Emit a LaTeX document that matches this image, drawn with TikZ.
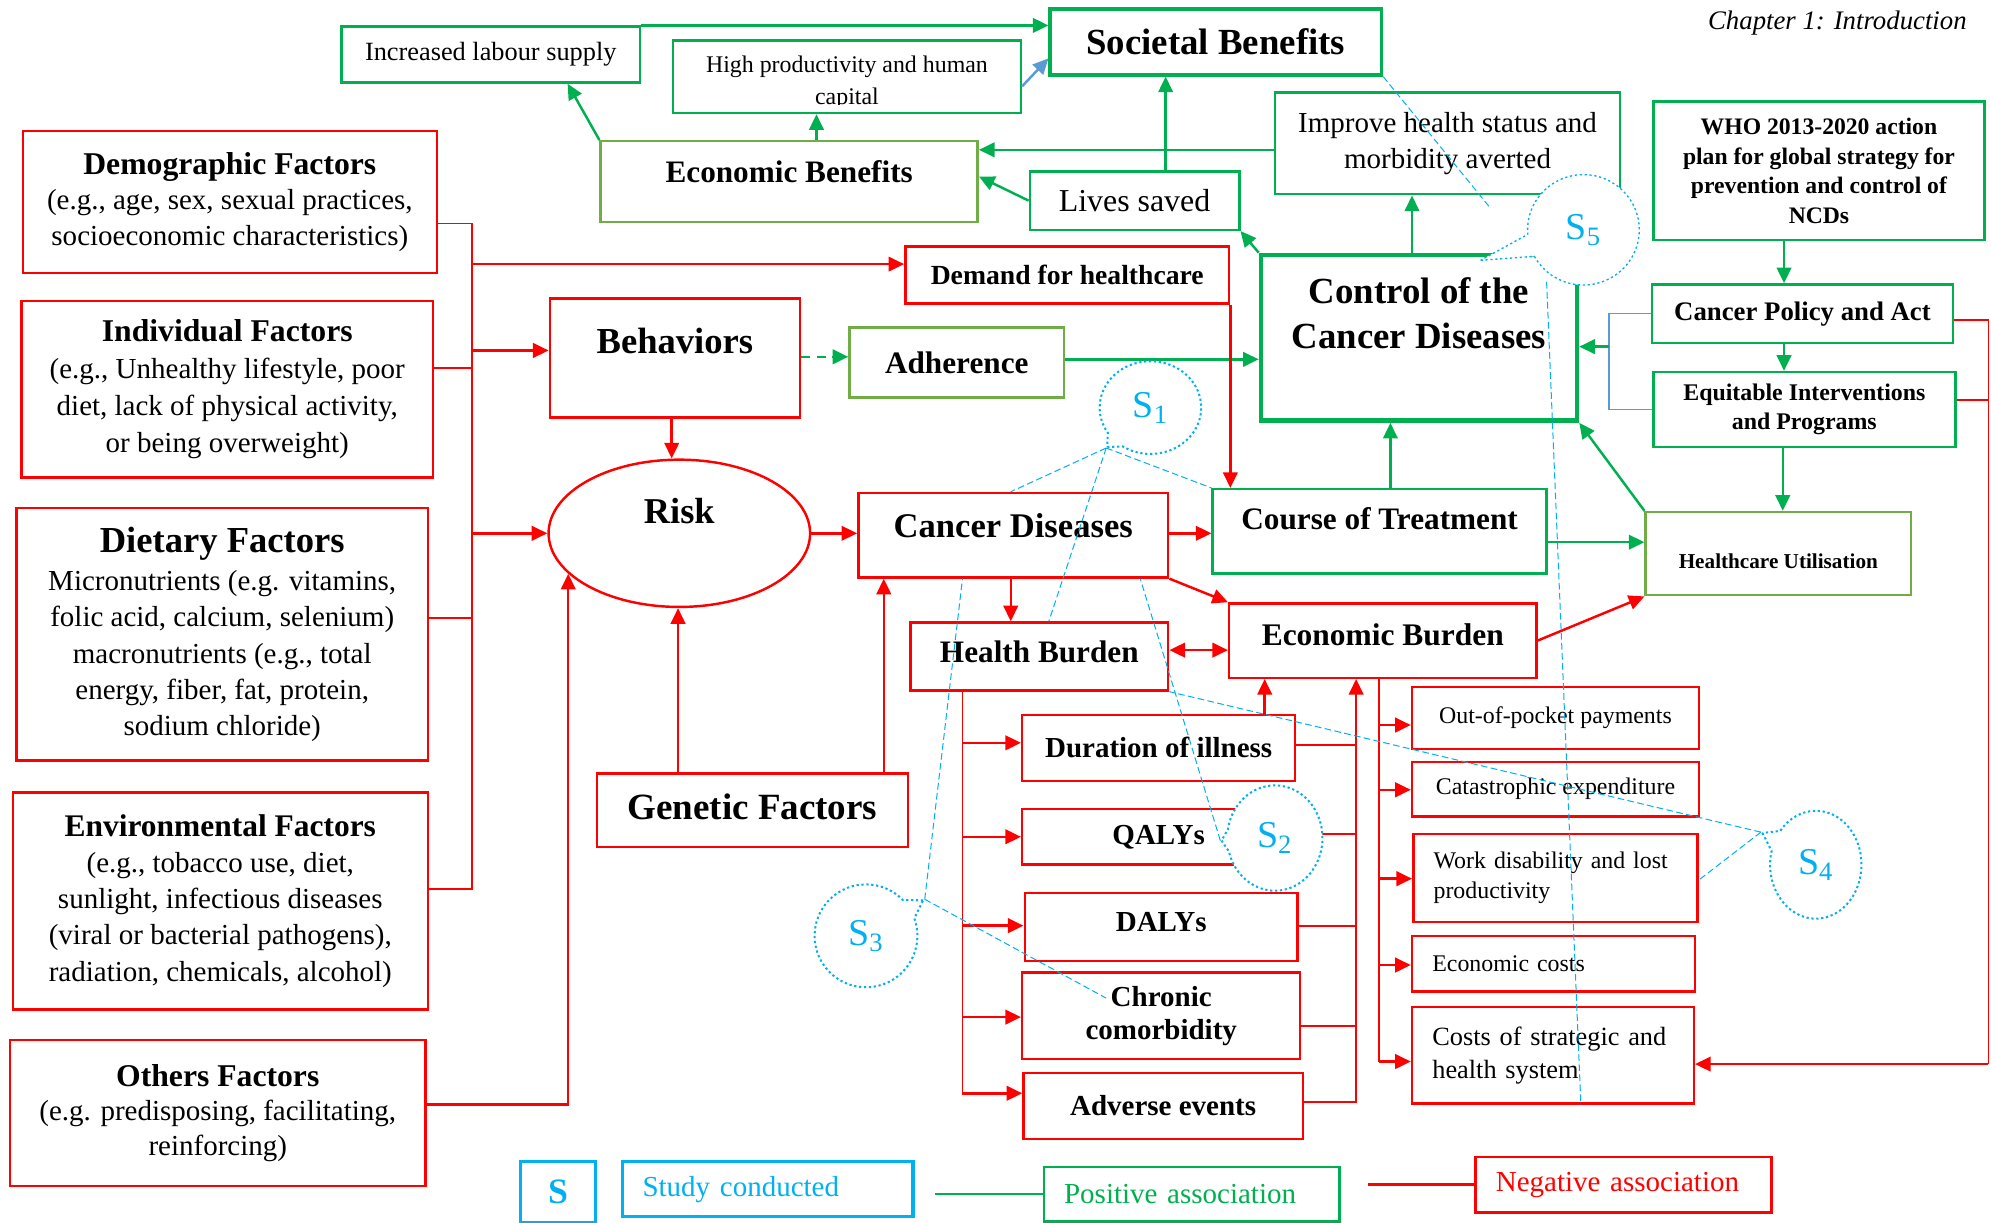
\documentclass[tikz,border=0pt]{standalone}
\usepackage{fontspec}
\setmainfont{Liberation Serif}
\usetikzlibrary{arrows.meta,shapes.geometric,shapes.callouts}

\definecolor{posgreen}{HTML}{00B050}
\definecolor{olivegreen}{HTML}{70AD47}
\definecolor{studycyan}{HTML}{00B0F0}
\definecolor{linkblue}{HTML}{5B9BD5}
\newcommand{\fsz}[2]{\fontsize{#1}{#2}\selectfont}

\begin{document}
\begin{tikzpicture}[
  x=0.02cm, y=-0.02cm,
  >={Triangle[length=7pt,width=6.5pt]},
  plainbox/.style={draw, fill=white, align=center, inner sep=1pt},
  negbox/.style={plainbox, draw=red, line width=1.1pt},
  posbox/.style={plainbox, draw=posgreen, line width=1.1pt},
  olivebox/.style={plainbox, draw=olivegreen, line width=1.1pt},
  leftbox/.style={align=left, inner xsep=0.32cm},
  neglink/.style={draw=red, line width=1.1pt, ->},
  negthin/.style={draw=red, line width=0.8pt},
  poslink/.style={draw=posgreen, line width=1.1pt, ->},
  study/.style={draw=studycyan, line width=0.45pt, dash pattern=on 3pt off 1.5pt},
  bubble/.style={ellipse callout, draw=studycyan, dash pattern=on 1pt off 1.2pt,
    line width=0.9pt, fill=white, text=studycyan, font=\fsz{17}{17},
    inner sep=0pt, callout pointer arc=24}
]
\useasboundingbox (0,0) rectangle (1568,963);

\node[font=\itshape\fsz{12}{14}] (chapter) at (1447,18) {Chapter 1: Introduction};

% ── Benefits (top row) ──────────────────────────────────────────
\node[posbox, minimum width=4.70cm, minimum height=0.88cm, font=\fsz{11.8}{14}]
  (labour) at (386.5,43) {Increased labour supply};
\node[posbox, minimum width=5.48cm, minimum height=1.14cm] (hiprod) at (667,60.5) {};
\begin{scope}
  \clip (531,33) rectangle (803,82);
  \node[font=\fsz{10.7}{14.2}, align=center] (hiprodtxt) at (667,65)
    {High productivity and human\\capital};
\end{scope}
\node[posbox, line width=1.5pt, minimum width=5.22cm, minimum height=1.04cm,
  font=\bfseries\fsz{16.5}{20}] (societal) at (957.5,33) {Societal Benefits};
\node[olivebox, minimum width=5.94cm, text height=0.62cm, text depth=0.58cm,
  font=\bfseries\fsz{14}{17}] (ecben) at (621.5,143) {Economic Benefits};
\node[posbox, minimum width=3.30cm, minimum height=0.92cm, font=\fsz{14.3}{17}]
  (lives) at (893.5,158) {Lives saved};
\node[posbox, minimum width=5.44cm, minimum height=1.60cm, font=\fsz{13}{15.9}]
  (improve) at (1140,113) {Improve health status and\\morbidity averted};

% ── Policy column ───────────────────────────────────────────────
\node[posbox, minimum width=5.22cm, minimum height=2.18cm, font=\bfseries\fsz{10.6}{13.2}]
  (who) at (1432.5,134.5)
  {WHO 2013-2020 action\\plan for global strategy for\\prevention and control of\\NCDs};
\node[posbox, line width=2pt, minimum width=4.98cm, text height=1.44cm, text depth=1.10cm,
  font=\bfseries\fsz{16.5}{20.4}] (control) at (1117.5,266) {Control of the\\Cancer Diseases};
\node[posbox, minimum width=4.74cm, minimum height=0.92cm, font=\bfseries\fsz{12}{14}]
  (policy) at (1419.5,247) {Cancer Policy and Act};
\node[posbox, minimum width=4.76cm, minimum height=1.18cm, font=\bfseries\fsz{10.7}{13}]
  (equit) at (1421,322.5) {Equitable Interventions\\and Programs};
\node[olivebox, minimum width=3.38cm, minimum height=1.10cm, font=\bfseries\fsz{14}{17}]
  (adher) at (753.5,285.5) {Adherence};
\node[posbox, minimum width=5.26cm, text height=0.60cm, text depth=0.66cm,
  font=\bfseries\fsz{14}{17}] (course) at (1086.5,418.5) {Course of Treatment};
\node[olivebox, minimum width=4.18cm, text height=0.85cm, text depth=0.39cm,
  font=\bfseries\fsz{9.5}{12}] (hcutil) at (1400.5,436) {Healthcare Utilisation};

% ── Risk factors (left column) ──────────────────────────────────
\node[negbox, minimum width=6.52cm, minimum height=2.24cm, font=\fsz{13}{16}] (demo) at (181,159)
  {{\bfseries\fsz{14.2}{16.5}Demographic Factors}\\(e.g., age, sex, sexual practices,\\
   socioeconomic characteristics)};
\node[negbox, minimum width=6.48cm, minimum height=2.78cm, font=\fsz{13}{16.5}] (indiv) at (179,306.5)
  {{\bfseries\fsz{14.2}{16.5}Individual Factors}\\(e.g., Unhealthy lifestyle, poor\\
   diet, lack of physical activity,\\or being overweight)};
\node[negbox, minimum width=6.48cm, minimum height=3.98cm, font=\fsz{13}{16.2}] (diet) at (175,499.5)
  {{\bfseries\fsz{16.4}{18}Dietary Factors}\\[1pt]Micronutrients (e.g. vitamins,\\
   folic acid, calcium, selenium)\\macronutrients (e.g., total\\
   energy, fiber, fat, protein,\\sodium chloride)};
\node[negbox, minimum width=6.54cm, minimum height=3.42cm, font=\fsz{13}{16.2}] (env) at (173.5,709.5)
  {{\bfseries\fsz{14.1}{16.5}Environmental Factors}\\(e.g., tobacco use, diet,\\
   sunlight, infectious diseases\\(viral or bacterial pathogens),\\
   radiation, chemicals, alcohol)};
\node[negbox, minimum width=6.54cm, minimum height=2.30cm, font=\fsz{13}{15.6}] (others) at (171.5,876.5)
  {{\bfseries\fsz{14.2}{16.5}Others Factors}\\(e.g. predisposing, facilitating,\\reinforcing)};

% ── Disease chain ───────────────────────────────────────────────
\node[negbox, minimum width=5.10cm, minimum height=0.90cm, font=\bfseries\fsz{12.4}{15}]
  (demand) at (840.5,216.5) {Demand for healthcare};
\node[negbox, minimum width=3.94cm, text height=0.83cm, text depth=0.97cm,
  font=\bfseries\fsz{16.4}{20}] (behav) at (531.5,282) {Behaviors};
\node[negbox, ellipse, minimum width=4.12cm, minimum height=2.32cm, text height=0.4cm,
  text depth=0.7cm, font=\bfseries\fsz{16.3}{20}] (risk) at (535,420) {Risk};
\node[negbox, minimum width=4.88cm, text height=0.66cm, text depth=0.60cm,
  font=\bfseries\fsz{15.5}{19}] (cancer) at (798,421.5) {Cancer Diseases};
\node[negbox, minimum width=4.90cm, text height=0.70cm, text depth=0.39cm,
  font=\bfseries\fsz{16.6}{20}] (genetic) at (592.5,638) {Genetic Factors};
\node[negbox, minimum width=4.06cm, text height=0.60cm, text depth=0.40cm,
  font=\bfseries\fsz{14}{17}] (hburden) at (818.5,517) {Health Burden};
\node[negbox, minimum width=4.84cm, text height=0.62cm, text depth=0.48cm,
  font=\bfseries\fsz{14.1}{17}] (eburden) at (1089,504.5) {Economic Burden};

% ── Health burden items ─────────────────────────────────────────
\node[negbox, minimum width=4.30cm, minimum height=1.04cm, font=\bfseries\fsz{13}{15}]
  (duration) at (912.5,589) {Duration of illness};
\node[negbox, minimum width=4.30cm, minimum height=0.88cm, font=\bfseries\fsz{13}{15}]
  (qalys) at (912.5,659) {QALYs};
\node[negbox, minimum width=4.30cm, text height=0.57cm, text depth=0.43cm,
  font=\bfseries\fsz{13}{15}] (dalys) at (914.5,730) {DALYs};
\node[negbox, minimum width=4.38cm, minimum height=1.36cm, font=\bfseries\fsz{13}{14.7}]
  (chronic) at (914.5,800) {Chronic\\comorbidity};
\node[negbox, minimum width=4.40cm, minimum height=1.04cm, font=\bfseries\fsz{13}{15}]
  (adverse) at (916,871) {Adverse events};

% ── Economic burden items ───────────────────────────────────────
\node[negbox, minimum width=4.52cm, minimum height=0.98cm, font=\fsz{10.7}{13}]
  (oop) at (1225,565.5) {Out-of-pocket payments};
\node[negbox, minimum width=4.52cm, minimum height=0.86cm, font=\fsz{10.7}{13}]
  (catas) at (1225,621.5) {Catastrophic expenditure};
\node[negbox, leftbox, text width=3.84cm, minimum height=1.38cm, font=\fsz{10.7}{13.6}]
  (work) at (1225,691.5) {Work disability and lost\\productivity};
\node[negbox, leftbox, text width=3.82cm, minimum height=0.88cm, font=\fsz{10.7}{13}]
  (ecost) at (1223.5,759) {Economic costs};
\node[negbox, leftbox, text width=3.80cm, minimum height=1.52cm, font=\fsz{11.8}{14.7}]
  (costs) at (1223,831) {Costs of strategic and\\health system};

% ── Legend ──────────────────────────────────────────────────────
\node[plainbox, draw=studycyan, line width=1.4pt, minimum width=1.18cm, minimum height=0.96cm,
  text=studycyan, font=\bfseries\fsz{16}{18}] (legS) at (439.5,939) {S};
\node[plainbox, leftbox, draw=studycyan, line width=1.4pt, text width=3.94cm, minimum height=0.86cm,
  text=studycyan, font=\fsz{13}{15}] (legstudy) at (604.5,936.5) {Study conducted};
\node[plainbox, leftbox, draw=posgreen, line width=1.1pt, text width=4.02cm, minimum height=0.86cm,
  text=posgreen, font=\fsz{13}{15}] (legpos) at (938.5,940.5) {Positive association};
\node[plainbox, leftbox, draw=red, line width=1.1pt, text width=4.02cm, minimum height=0.88cm,
  text=red, font=\fsz{13}{15}] (legneg) at (1278.5,933) {Negative association};
\draw[posgreen, line width=1.1pt] (legpos.west) -- ++(-85,0);
\draw[red, line width=1.1pt] (legneg.west) -- ++(-84,0);

% ── Positive links ──────────────────────────────────────────────
\coordinate (brk) at (1267,273);
\draw[poslink] (labour.north east) -- (labour.north east -| societal.west);
\draw[poslink] (ecben.north west) -- (labour.south -| 447,0);
\draw[poslink] (ecben.north -| 643,0) -- (hiprod.south -| 643,0);
\draw[linkblue, line width=1.1pt, ->] (hiprod.east |- 0,68) -- (societal.west |- 0,46);
\draw[poslink] (improve.west |- 0,118) -- (ecben.east |- 0,118);
\draw[poslink] (lives.north -| 918,0) -- (societal.south -| 918,0);
\draw[poslink] (lives.west) -- (ecben.east |- 0,139);
\draw[poslink] (control.north west) -- (lives.south east);
\draw[poslink] (control.north -| 1112,0) -- (improve.south -| 1112,0);
\draw[poslink] (who.south -| 1405,0) -- (policy.north -| 1405,0);
\draw[poslink] (policy.south -| 1405,0) -- (equit.north -| 1405,0);
\draw[poslink] (equit.south -| 1404,0) -- (hcutil.north -| 1404,0);
\draw[linkblue, line width=0.7pt] (policy.west) -| (brk) |- (equit.west);
\draw[poslink] (brk) -- (control.east |- brk);
\draw[poslink] (course.north -| 1095,0) -- (control.south -| 1095,0);
\draw[poslink] (course.east |- 0,427) -- (hcutil.west |- 0,427);
\draw[poslink] (hcutil.north west) -- (control.south east);
\draw[poslink] (adher.east |- 0,283) -- (control.west |- 0,283);
\draw[poslink, dash pattern=on 4pt off 3pt] (behav.east |- 0,281) -- (adher.west |- 0,281);

% ── Negative links ──────────────────────────────────────────────
\coordinate (fbus) at (372,700);
\draw[negthin] (demo.east |- 0,176) -| (fbus) -- (env.east |- fbus);
\draw[negthin] (indiv.east |- 0,290) -- (fbus |- 0,290);
\draw[negthin] (diet.east |- 0,487) -- (fbus |- 0,487);
\draw[neglink] (fbus |- 0,208) -- (demand.west |- 0,208);
\draw[neglink] (fbus |- 0,276) -- (behav.west |- 0,276);
\draw[neglink] (fbus |- risk.west) -- (risk.west);
\draw[neglink] (others.east |- 0,870) -| (risk.200);
\draw[neglink] (behav.south -| 529,0) -- (risk.north -| 529,0);
\draw[neglink] (genetic.north -| 534,0) -- (risk.south -| 534,0);
\draw[neglink] (genetic.north -| 696,0) -- (cancer.south -| 696,0);
\draw[neglink] (risk.east) -- (cancer.west |- risk.east);
\draw[neglink] (demand.south east) -- (demand.south east |- course.north);
\draw[neglink] (cancer.east |- 0,420) -- (course.west |- 0,420);
\draw[neglink] (cancer.south -| 796,0) -- (hburden.north -| 796,0);
\draw[neglink] (cancer.south east) -- (eburden.north west);
\draw[red, line width=1.1pt, <->] (hburden.east |- 0,512) -- (eburden.west |- 0,512);
\draw[neglink] (eburden.east) -- (hcutil.south west);

\coordinate (hbus) at (758,861);
\draw[negthin] (hburden.south -| hbus) -- (hbus);
\draw[neglink] (hbus |- 0,585) -- (duration.west |- 0,585);
\draw[neglink] (hbus |- 0,659) -- (qalys.west |- 0,659);
\draw[neglink] (hbus |- 0,729) -- (dalys.west |- 0,729);
\draw[neglink] (hbus |- 0,801) -- (chronic.west |- 0,801);
\draw[neglink] (hbus) -- (adverse.west |- hbus);

\coordinate (ebus) at (1068,868);
\draw[neglink] (adverse.east |- ebus) -- (ebus) -- (eburden.south -| ebus);
\draw[negthin] (duration.east |- 0,587) -- (ebus |- 0,587);
\draw[negthin] (qalys.east |- 0,657) -- (ebus |- 0,657);
\draw[negthin] (dalys.east |- 0,729) -- (ebus |- 0,729);
\draw[negthin] (chronic.east |- 0,808) -- (ebus |- 0,808);
\draw[neglink] (duration.north -| 996,0) -- (eburden.south -| 996,0);

\coordinate (obus) at (1086,836);
\draw[negthin] (eburden.south -| obus) -- (obus);
\draw[neglink] (obus |- 0,571) -- (oop.west |- 0,571);
\draw[neglink] (obus |- 0,622) -- (catas.west |- 0,622);
\draw[neglink] (obus |- 0,692) -- (work.west |- 0,692);
\draw[neglink] (obus |- 0,760) -- (ecost.west |- 0,760);
\draw[neglink] (obus) -- (costs.west |- obus);

\coordinate (rbus) at (1566,838);
\draw[negthin] (policy.east |- 0,252) -| (rbus);
\draw[negthin] (equit.east |- 0,315) -- (rbus |- 0,315);
\draw[neglink] (rbus) -- (costs.east |- rbus);

% ── Study bubbles (drawn over the boxes) ────────────────────────
\node[bubble, minimum width=1.60cm, minimum height=1.46cm, callout absolute pointer={(872,352)}]
  (s1) at (906,321) {S\textsubscript{1}};
\node[bubble, minimum width=1.50cm, minimum height=1.66cm, callout absolute pointer={(962,662)}]
  (s2) at (1004,660) {S\textsubscript{2}};
\node[bubble, minimum width=1.62cm, minimum height=1.62cm, callout absolute pointer={(727,709)}]
  (s3) at (682,737) {S\textsubscript{3}};
\node[bubble, minimum width=1.44cm, minimum height=1.70cm, callout absolute pointer={(1388,656)}]
  (s4) at (1430,681) {S\textsubscript{4}};
\node[bubble, line width=0.6pt, minimum width=1.76cm, minimum height=1.74cm,
  callout absolute pointer={(1166,205)}] (s5) at (1247,181) {S\textsubscript{5}};

\coordinate (s3end) at (871,786);
\coordinate (s5a) at (1173,163);
\coordinate (s5b) at (1218,222);
\draw[study] (s1.pointer) -- (cancer.north -| 796,0);
\draw[study] (s1.pointer) -- (course.north west);
\draw[study] (s1.pointer) -- (hburden.north -| 826,0);
\draw[study] (s2.pointer) -- (cancer.south -| 898,0);
\draw[study] (s3.pointer) -- (cancer.south -| 758,0);
\draw[study] (s3.pointer) -- (s3end);
\draw[study] (s4.pointer) -- (hburden.south east);
\draw[study] (s4.pointer) -- (work.east |- 0,693);
\draw[study] (societal.south east) -- (s5a);
\draw[study] (s5b) -- (costs.south -| 1245,0);

\end{tikzpicture}
\end{document}
